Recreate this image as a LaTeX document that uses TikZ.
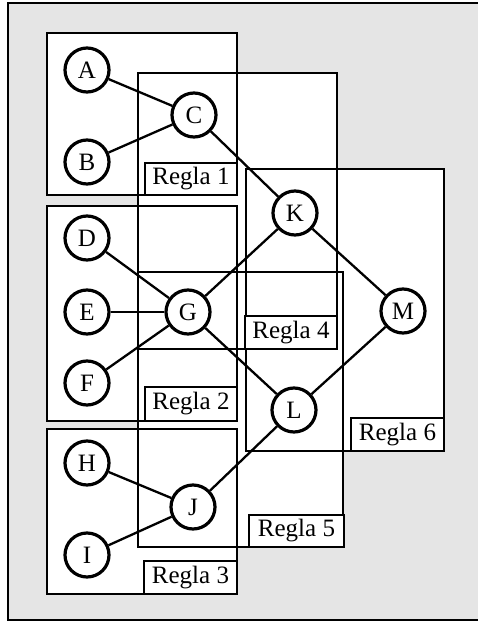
\documentclass[tikz,border=0pt]{standalone}
\usepackage{fontspec}
\setmainfont{Liberation Serif}
\begin{document}
\begin{tikzpicture}[x=1pt,y=-1pt,
  framepen/.style={line width=2.6pt},
  rulelabel/.style={draw=black,line width=2.6pt,fill=white,inner sep=0pt,font=\fontsize{25}{25}\selectfont},
  var/.style={circle,draw=black,line width=3.2pt,fill=white,minimum size=44pt,inner sep=0pt,font=\fontsize{25}{25}\selectfont},
  link/.style={line width=2.3pt}]
\useasboundingbox (0,0) rectangle (477,623);
% outer frame
\fill[black!10] (8,3) rectangle (490,620);
\draw[framepen] (490,3) -- (8,3) -- (8,620) -- (490,620);
% rule regions: white interiors first, then borders
\fill[white] (47,33) rectangle (237,195);
\fill[white] (47,206) rectangle (237,421);
\fill[white] (47,429) rectangle (237,594);
\fill[white] (138,73) rectangle (337,349);
\fill[white] (138,272) rectangle (343,547);
\fill[white] (246,169) rectangle (444,451);
\draw[framepen] (47,33) rectangle (237,195);
\draw[framepen] (47,206) rectangle (237,421);
\draw[framepen] (47,429) rectangle (237,594);
\draw[framepen] (138,73) rectangle (337,349);
\draw[framepen] (138,272) rectangle (343,547);
\draw[framepen] (246,169) rectangle (444,451);
% rule labels
\node[rulelabel,minimum width=92pt,minimum height=32pt] (r1) at (191,179) {Regla 1};
\node[rulelabel,minimum width=92pt,minimum height=34pt] (r2) at (191,404) {Regla 2};
\node[rulelabel,minimum width=93pt,minimum height=33pt] (r3) at (190.5,577.5) {Regla 3};
\node[rulelabel,minimum width=92pt,minimum height=33pt] (r4) at (291,332.5) {Regla 4};
\node[rulelabel,minimum width=95pt,minimum height=32pt] (r5) at (296.5,531) {Regla 5};
\node[rulelabel,minimum width=93pt,minimum height=33pt] (r6) at (397.5,434.5) {Regla 6};
% variables
\node[var] (A) at (87,70) {A};
\node[var] (B) at (87,162) {B};
\node[var] (C) at (194,115) {C};
\node[var] (D) at (87,238) {D};
\node[var] (E) at (87,312) {E};
\node[var] (F) at (87,383) {F};
\node[var] (G) at (188,312) {G};
\node[var] (H) at (87,463) {H};
\node[var] (I) at (87,555) {I};
\node[var] (J) at (193,507) {J};
\node[var] (K) at (295,213) {K};
\node[var] (L) at (294,410) {L};
\node[var] (M) at (403,311) {M};
% dependencies
\draw[link] (A) -- (C);
\draw[link] (B) -- (C);
\draw[link] (C) -- (K);
\draw[link] (D) -- (G);
\draw[link] (E) -- (G);
\draw[link] (F) -- (G);
\draw[link] (G) -- (K);
\draw[link] (G) -- (L);
\draw[link] (K) -- (M);
\draw[link] (L) -- (M);
\draw[link] (H) -- (J);
\draw[link] (I) -- (J);
\draw[link] (J) -- (L);
\end{tikzpicture}
\end{document}
